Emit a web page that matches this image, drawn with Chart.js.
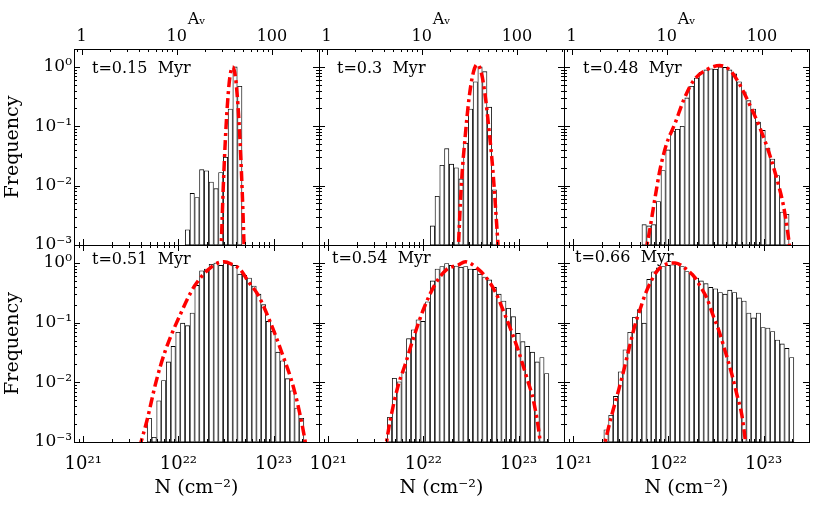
<!DOCTYPE html>
<html>
<head>
<meta charset="utf-8">
<script src="https://cdn.jsdelivr.net/npm/chart.js@4/dist/chart.umd.min.js"></script>
<style>
  body { margin: 0; background: #fff; }
  #wrap { position: relative; width: 830px; height: 510px; }
  #wrap canvas { position: absolute; left: 0; top: 0; }
</style>
</head>
<body>
<div id="wrap">
  <canvas id="p0" width="830" height="510"></canvas>
  <canvas id="p1" width="830" height="510"></canvas>
  <canvas id="p2" width="830" height="510"></canvas>
  <canvas id="p3" width="830" height="510"></canvas>
  <canvas id="p4" width="830" height="510"></canvas>
  <canvas id="p5" width="830" height="510"></canvas>
</div>
<script>
"use strict";

// histogram bin centres, log10 N (cm^-2), bins 0.05 dex wide
var binLogN = [21.345, 21.395, 21.445, 21.495, 21.545, 21.595, 21.645, 21.695, 21.745, 21.795,
               21.845, 21.895, 21.945, 21.995, 22.045, 22.095, 22.145, 22.195, 22.245, 22.295,
               22.345, 22.395, 22.445, 22.495, 22.545, 22.595, 22.645, 22.695, 22.745, 22.795,
               22.845, 22.895, 22.945, 22.995, 23.045, 23.095, 23.145, 23.195, 23.245, 23.295];

var n = null;
var freq015 = [n, n, n, n, n, n, n, n, n, n, n, n, n, n, n,
               0.0018, 0.0074, 0.0063, 0.0186, 0.0178, 0.0115, 0.0089, 0.0166, 0.030, 0.195, 1.0, 0.47,
               n, n, n, n, n, n, n, n, n, n, n, n, n];
var freq030 = [n, n, n, n, n, n, n, n, n, n, n, n, n, n, n,
               0.0021, 0.0066, 0.022, 0.042, 0.023, 0.020, 0.013, 0.052, 0.195, 0.56, 1.0, 0.83, 0.21, 0.0085,
               n, n, n, n, n, n, n, n, n, n, n];
var freq048 = [n, n, n, n, n, n, n, n,
               0.0022, 0.0021, 0.0022, 0.0054, 0.018, 0.040, 0.083, 0.089, 0.10, 0.30,
               0.47, 0.65, 0.81, 0.89, 0.93, 0.91, 1.0, 0.98, 0.89, 0.76,
               0.56, 0.38, 0.27, 0.195, 0.117, 0.085, 0.043, 0.028, 0.0148, 0.0036, 0.0033,
               n];
var freq051 = [n, n, n, n, n, n, n,
               0.0025, 0.0012, 0.0049, 0.0107, 0.022, 0.040, 0.069, 0.098, 0.089, 0.145,
               0.42, 0.74, 0.79, 0.95, 1.0, 0.91, 0.98, 0.95, 0.91, 0.65,
               0.62, 0.56, 0.41, 0.30, 0.20, 0.105, 0.072, 0.032, 0.023, 0.0115,
               0.0072, 0.0037, 0.0025];
var freq054 = [n, n, n, n, n, n,
               0.0026, 0.0117, 0.0102, 0.015, 0.054, 0.076, 0.112, 0.105, 0.224, 0.50,
               0.79, 0.87, 0.98, 0.91, 0.89, 0.85, 0.87, 0.79, 0.78, 0.65,
               0.58, 0.52, 0.39, 0.30, 0.23, 0.174, 0.126, 0.066, 0.048, 0.040,
               0.032, 0.022, 0.026, 0.014];
var freq066 = [0.0016, 0.0028, 0.0058, 0.015, 0.035, 0.069, 0.123, 0.165, 0.098, 0.53,
               0.71, 0.83, 0.87, 0.91, 0.93, 1.0, 0.87, 0.72, 0.66, 0.56,
               0.50, 0.45, 0.39, 0.37, 0.32, 0.30, 0.35, 0.32, 0.26, 0.23,
               0.145, 0.12, 0.145, 0.083, 0.081, 0.071, 0.051, 0.044, 0.037, 0.026];

// lognormal fits (red dash-dot)
var fitN015 = [22.44, 22.47, 22.50, 22.53, 22.55, 22.57, 22.59, 22.61, 22.64, 22.67, 22.70];
var fit015  = [3e-4, 8.3e-3, 0.095, 0.47, 0.83, 1.0, 0.83, 0.47, 0.095, 8.3e-3, 3e-4];
var fitN030 = [22.36, 22.40, 22.44, 22.48, 22.52, 22.565, 22.61, 22.65, 22.69, 22.73, 22.77, 22.80];
var fit030  = [5e-4, 0.011, 0.07, 0.30, 0.75, 1.1, 0.78, 0.32, 0.085, 0.018, 0.0022, 4e-4];
var fitN048 = [21.74, 21.78, 21.86, 21.91, 21.98, 22.07, 22.16, 22.26, 22.40, 22.54,
               22.65, 22.75, 22.86, 22.97, 23.07, 23.16, 23.21, 23.25, 23.28];
var fit048  = [6e-4, 1.1e-3, 6.3e-3, 0.018, 0.05, 0.112, 0.275, 0.575, 0.89, 1.05,
               0.87, 0.50, 0.22, 0.087, 0.031, 0.0098, 0.0045, 0.0018, 8e-4];
var fitN051 = [21.59, 21.667, 21.765, 21.86, 22.018, 22.169, 22.368, 22.48, 22.562,
               22.649, 22.737, 22.835, 22.947, 23.088, 23.221, 23.333, 23.36];
var fit051  = [8e-4, 2.2e-3, 0.0102, 0.033, 0.135, 0.41, 0.91, 1.05, 0.95,
               0.78, 0.48, 0.295, 0.12, 0.031, 0.007, 0.001, 5e-4];
var fitN054 = [21.59, 21.649, 21.737, 21.807, 21.895, 22.0, 22.123, 22.246, 22.369, 22.44,
               22.544, 22.649, 22.755, 22.842, 22.93, 23.0, 23.088, 23.158, 23.221, 23.24];
var fit054  = [6e-4, 2.2e-3, 9.1e-3, 0.0195, 0.055, 0.166, 0.44, 0.78, 0.93, 1.05,
               0.87, 0.60, 0.33, 0.155, 0.068, 0.033, 0.0117, 0.0048, 1.2e-3, 6e-4];
var fitN066 = [21.30, 21.404, 21.474, 21.527, 21.597, 21.649, 21.702, 21.755, 21.807, 21.878,
               21.948, 22.07, 22.193, 22.281, 22.334, 22.404, 22.474, 22.527, 22.597, 22.667,
               22.72, 22.772, 22.81, 22.83];
var fit066  = [6e-4, 2.8e-3, 7.1e-3, 0.015, 0.043, 0.091, 0.166, 0.295, 0.457, 0.724,
               0.912, 1.0, 0.776, 0.562, 0.407, 0.257, 0.126, 0.076, 0.033, 0.0135,
               0.0062, 0.0028, 1.0e-3, 5e-4];

var panelLabels = ['t=0.15  Myr', 't=0.3  Myr', 't=0.48  Myr', 't=0.51  Myr', 't=0.54  Myr', 't=0.66  Myr'];
var panelFreq = [freq015, freq030, freq048, freq051, freq054, freq066];
var panelFitN = [fitN015, fitN030, fitN048, fitN051, fitN054, fitN066];
var panelFit = [fit015, fit030, fit048, fit051, fit054, fit066];

// axis ranges
var xMin = 8e20, xMax = 3e23;
var yMin = 1e-3, yMax = 2;
var nPerAv = 9.6e20;

// panel frames in page pixels
var colEdges = [74, 319, 564, 809];
var rowEdges = [49, 245, 442];
var labelPos = [[18, 24], [18, 24], [19, 24], [18, 19], [13, 18], [11, 17]];

Chart.defaults.font.family = "'DejaVu Serif', serif";
Chart.defaults.color = '#000';

var SUP = {'0': '⁰', '1': '¹', '2': '²', '3': '³', '4': '⁴', '5': '⁵', '6': '⁶', '7': '⁷', '8': '⁸', '9': '⁹', '-': '⁻'};
function sup(v) {
    return String(v).split('').map(function (c) { return SUP[c]; }).join('');
}
function isPow10(v) {
    var l = Math.log10(v);
    return Math.abs(l - Math.round(l)) < 1e-6;
}
function logTicks(min, max) {
    var out = [];
    for (var e = Math.floor(Math.log10(min)); e <= Math.ceil(Math.log10(max)); e++) {
        for (var m = 1; m <= 9; m++) {
            var v = m * Math.pow(10, e);
            if (v >= min * 0.9999 && v <= max * 1.0001) out.push({ value: v });
        }
    }
    return out;
}
function setLogTicks(scale) {
    scale.ticks = logTicks(scale.min, scale.max);
}

// frame, inward ticks on all four sides, and the panel label
var decor = {
    id: 'decor',
    afterDatasetsDraw: function (chart, args, opts) {
        var ctx = chart.ctx, a = chart.chartArea;
        var xs = chart.scales.x, x2 = chart.scales.x2, ys = chart.scales.y;
        ctx.save();
        ctx.strokeStyle = '#000';
        ctx.lineWidth = 1;
        ctx.beginPath();
        xs.ticks.forEach(function (t) {
            var px = Math.round(xs.getPixelForValue(t.value)) + 0.5;
            var len = isPow10(t.value) ? 6 : 3;
            ctx.moveTo(px, a.bottom); ctx.lineTo(px, a.bottom - len);
            if (!opts.topAv) { ctx.moveTo(px, a.top); ctx.lineTo(px, a.top + len); }
        });
        if (opts.topAv) {
            x2.ticks.forEach(function (t) {
                var px = Math.round(x2.getPixelForValue(t.value)) + 0.5;
                var len = isPow10(t.value) ? 6 : 3;
                ctx.moveTo(px, a.top); ctx.lineTo(px, a.top + len);
            });
        }
        ys.ticks.forEach(function (t) {
            var py = Math.round(ys.getPixelForValue(t.value)) + 0.5;
            var len = isPow10(t.value) ? 6 : 3;
            ctx.moveTo(a.left, py); ctx.lineTo(a.left + len, py);
            ctx.moveTo(a.right, py); ctx.lineTo(a.right - len, py);
        });
        ctx.stroke();
        ctx.strokeRect(a.left + 0.5, a.top + 0.5, a.right - a.left, a.bottom - a.top);
        ctx.fillStyle = '#000';
        ctx.font = "16px 'DejaVu Serif', serif";
        ctx.textBaseline = 'alphabetic';
        ctx.textAlign = 'left';
        ctx.fillText(opts.label, a.left + opts.dx, a.top + opts.dy);
        ctx.restore();
    }
};

panelLabels.forEach(function (label, i) {
    var row = Math.floor(i / 3), col = i % 3;
    var left = colEdges[col], right = colEdges[col + 1];
    var top = rowEdges[row], bottom = rowEdges[row + 1];

    var bars = [];
    binLogN.forEach(function (ln, k) {
        if (panelFreq[i][k] !== null) bars.push({ x: Math.pow(10, ln), y: panelFreq[i][k] });
    });
    var fit = panelFitN[i].map(function (ln, k) {
        return { x: Math.pow(10, ln), y: panelFit[i][k] };
    });

    new Chart(document.getElementById('p' + i), {
        type: 'bar',
        data: {
            datasets: [{
                type: 'bar',
                data: bars,
                backgroundColor: '#ffffff',
                borderColor: '#000000',
                borderWidth: 0.85,
                borderSkipped: false,
                barPercentage: 1,
                categoryPercentage: 1,
                order: 2
            }, {
                type: 'line',
                data: fit,
                borderColor: '#ff0000',
                borderWidth: 3.5,
                borderDash: [10, 4, 3, 4],
                pointRadius: 0,
                fill: false,
                cubicInterpolationMode: 'monotone',
                order: 1
            }]
        },
        options: {
            responsive: false,
            animation: false,
            events: [],
            layout: { autoPadding: false, padding: { left: 0, top: 0, bottom: 0, right: 830 - right } },
            plugins: {
                legend: { display: false },
                tooltip: { enabled: false },
                decor: { label: label, dx: labelPos[i][0], dy: labelPos[i][1], topAv: row === 0 }
            },
            scales: {
                x: {
                    type: 'logarithmic',
                    position: 'bottom',
                    min: xMin,
                    max: xMax,
                    offset: false,
                    grid: { display: false, drawTicks: false },
                    border: { display: false },
                    afterBuildTicks: setLogTicks,
                    afterFit: function (s) { s.height = 510 - bottom; },
                    ticks: {
                        display: row === 1,
                        autoSkip: false,
                        maxRotation: 0,
                        padding: 12,
                        font: { size: 18 },
                        callback: function (v) { return isPow10(v) ? '10' + sup(Math.round(Math.log10(v))) : ''; }
                    },
                    title: { display: row === 1, text: 'N (cm⁻²)', font: { size: 19 }, padding: { top: 0, bottom: 11 } }
                },
                x2: {
                    type: 'logarithmic',
                    position: 'top',
                    min: xMin / nPerAv,
                    max: xMax / nPerAv,
                    offset: false,
                    grid: { display: false, drawTicks: false },
                    border: { display: false },
                    afterBuildTicks: setLogTicks,
                    afterFit: function (s) { s.height = top; },
                    ticks: {
                        display: row === 0,
                        autoSkip: false,
                        maxRotation: 0,
                        padding: 3,
                        font: { size: 16 },
                        callback: function (v) { return isPow10(v) ? String(Math.round(v)) : ''; }
                    },
                    title: { display: row === 0, text: 'Aᵥ', font: { size: 16 }, padding: { top: 10, bottom: 0 } }
                },
                y: {
                    type: 'logarithmic',
                    position: 'left',
                    min: yMin,
                    max: yMax,
                    grid: { display: false, drawTicks: false },
                    border: { display: false },
                    afterBuildTicks: setLogTicks,
                    afterFit: function (s) { s.width = left; },
                    ticks: {
                        display: col === 0,
                        autoSkip: false,
                        padding: 2,
                        font: { size: 17 },
                        callback: function (v) { return isPow10(v) ? '10' + sup(Math.round(Math.log10(v))) : ''; }
                    },
                    title: { display: col === 0, text: 'Frequency', font: { size: 19 }, padding: { top: 2, bottom: 0 } }
                }
            }
        },
        plugins: [decor]
    });
});
</script>
</body>
</html>
